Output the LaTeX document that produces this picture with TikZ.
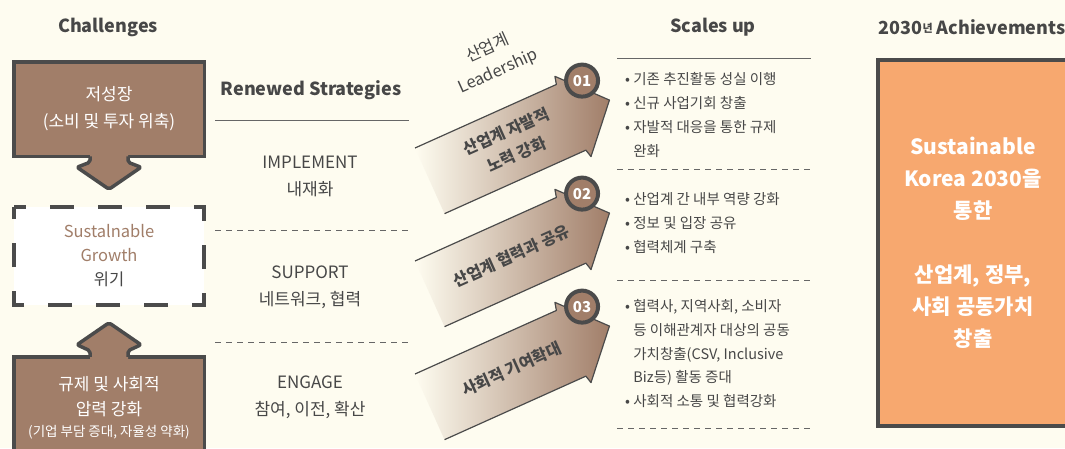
\documentclass[tikz,border=0pt]{standalone}
\usepackage{fontspec}
\setmainfont{Noto Sans CJK KR}
\usetikzlibrary{calc,positioning}

\definecolor{bgcream}{HTML}{FEFCF0}
\definecolor{mudbrown}{HTML}{A17E69}
\definecolor{edgegray}{HTML}{4B4B4B}
\definecolor{textgray}{HTML}{474747}
\definecolor{goalorange}{HTML}{F7A86F}

\begin{document}
\begin{tikzpicture}[x=1pt,y=-1pt]
  \tikzstyle{heading}=[font=\fontsize{18}{20}\selectfont\bfseries,text=textgray]
  \tikzstyle{chbox}=[rectangle,draw=edgegray,line width=3.5pt,fill=mudbrown,text=white,align=center,minimum width=190.5pt,inner sep=0pt,outer sep=0pt,font=\fontsize{17}{27}\selectfont]
  \tikzstyle{crisisbox}=[rectangle,fill=white,align=center,minimum width=190pt,minimum height=98pt,inner sep=0pt,outer sep=0pt,text=textgray,font=\fontsize{16.5}{24}\selectfont]
  \tikzstyle{strat}=[align=center,text=textgray,font=\fontsize{17}{27}\selectfont]
  \tikzstyle{sepline}=[edgegray!85,line width=0.9pt]
  \tikzstyle{blockarrow}=[edgegray,line width=3.5pt,rounded corners=2pt,line join=round]
  \tikzstyle{flowedge}=[edgegray,line width=1.2pt,line join=round]
  \tikzstyle{numdot}=[circle,fill=mudbrown,draw=edgegray,line width=4pt,minimum size=32pt,inner sep=0pt,text=white,font=\fontsize{15}{15}\selectfont\bfseries]
  \tikzstyle{flowlabel}=[align=center,text=textgray,font=\fontsize{16}{25}\selectfont\bfseries,rotate=24.2]
  \tikzstyle{bullets}=[anchor=north west,align=left,inner sep=0pt,text=textgray,font=\fontsize{14.5}{24}\selectfont]
  \tikzstyle{goalbox}=[rectangle,draw=edgegray,line width=4pt,fill=goalorange,text=white,align=center,minimum width=190pt,minimum height=366pt,font=\fontsize{21}{32}\selectfont\bfseries]

  \useasboundingbox (0,0) rectangle (1065,448);
  \fill[bgcream] (0,0) rectangle (1065,448);
  \clip (0,0) rectangle (1065,448);

  % column headings
  \node[heading] (hdchal) at (108,27) {Challenges};
  \node[heading] (hdstrat) at (311,90) {Renewed Strategies};
  \node[heading] (hdscale) at (713,27) {Scales up};
  \node[heading] (hdgoal) at (972,27) {2030\raisebox{1.5pt}{\fontsize{11}{11}\selectfont 년} Achievements};

  % challenges
  \node[chbox,minimum height=94.5pt] (lowgrowth) at (109,109) {저성장\\(소비 및 투자 위축)};
  \node[crisisbox] (crisis) at (109,256) {\textcolor{mudbrown}{Sustalnable}\\\textcolor{mudbrown}{Growth}\\위기};
  \draw[edgegray,line width=4pt,dash pattern=on 24pt off 24pt,dash phase=12pt]
    (crisis.north west) -- (crisis.north east) -- (crisis.south east) -- (crisis.south west) -- cycle;
  \node[chbox,minimum height=102.5pt,font=\fontsize{17}{25}\selectfont] (pressure) at (109,408) {규제 및 사회적\\압력 강화\\[-4pt]{\fontsize{13.5}{16}\selectfont(기업 부담 증대, 자율성 약화)}};

  % block arrows
  \begin{scope}[shift={(lowgrowth.south)}]
    \fill[mudbrown,rounded corners=2pt] (-19,-4) -- (-19,6) -- (-32,11) -- (0,33) -- (32,11) -- (19,6) -- (19,-4) -- cycle;
    \draw[blockarrow] (-19,0) -- (-19,6) -- (-32,11) -- (0,33) -- (32,11) -- (19,6) -- (19,0);
  \end{scope}
  \begin{scope}[shift={(pressure.north)}]
    \fill[mudbrown,rounded corners=2pt] (-19,4) -- (-19,-6) -- (-32,-12) -- (0,-34) -- (32,-12) -- (19,-6) -- (19,4) -- cycle;
    \draw[blockarrow] (-19,0) -- (-19,-6) -- (-32,-12) -- (0,-34) -- (32,-12) -- (19,-6) -- (19,0);
  \end{scope}

  % strategies
  \draw[sepline] (215,120) -- (409,120);
  \draw[sepline,dash pattern=on 6pt off 5pt] (215,230) -- (409,230);
  \draw[sepline,dash pattern=on 6pt off 5pt] (215,342) -- (409,342);
  \node[strat] (implement) at (310,176) {IMPLEMENT\\내재화};
  \node[strat] (support) at (310,287) {SUPPORT\\네트워크, 협력};
  \node[strat] (engage) at (310,397) {ENGAGE\\참여, 이전, 확산};

  % flow arrows
  \foreach \k/\ytop/\txt in {1/148/{산업계 자발적\\노력 강화},2/261/{산업계 협력과 공유},3/374/{사회적 기여확대}}{
    \begin{scope}[shift={(415,\ytop)},rotate=24.2]
      \shade[left color=bgcream,right color=mudbrown] (0,0) -- (155,0) -- (157,-8) -- (197,36) -- (157,80) -- (155,72) -- (0,72) -- cycle;
      \draw[flowedge] (0,0) -- (155,0) -- (157,-8) -- (197,36) -- (157,80) -- (155,72) -- (0,72);
      \node[flowlabel] (flow\k) at (90,35) {\txt};
      \node[numdot] (num\k) at (180,7) {0\k};
    \end{scope}
  }
  \node[align=center,text=textgray,font=\fontsize{16.5}{25}\selectfont,rotate=24.2] (leader) at (493,60) {산업계\\Leadership};

  % scales up
  \draw[sepline] (617,58) -- (811,58);
  \foreach \ysep in {169,280,428}
    \draw[sepline,dash pattern=on 6pt off 5pt] (617,\ysep) -- (811,\ysep);
  \node[bullets] (scale1) at (625,72.5) {• 기존 추진활동 성실 이행\\• 신규 사업기회 창출\\• 자발적 대응을 통한 규제\\\phantom{• }완화};
  \node[bullets] (scale2) at (625,192.5) {• 산업계 간 내부 역량 강화\\• 정보 및 입장 공유\\• 협력체계 구축};
  \node[bullets,font=\fontsize{14.5}{23.7}\selectfont] (scale3) at (625,299.5) {• 협력사, 지역사회, 소비자\\\phantom{• }등 이해관계자 대상의 공동\\\phantom{• }가치창출(CSV, Inclusive\\\phantom{• }Biz등) 활동 증대\\• 사회적 소통 및 협력강화};

  % achievements
  \node[goalbox] (goal) at (973,243) {Sustainable\\Korea 2030을\\통한\\[32pt]산업계, 정부,\\사회 공동가치\\창출};
\end{tikzpicture}
\end{document}
